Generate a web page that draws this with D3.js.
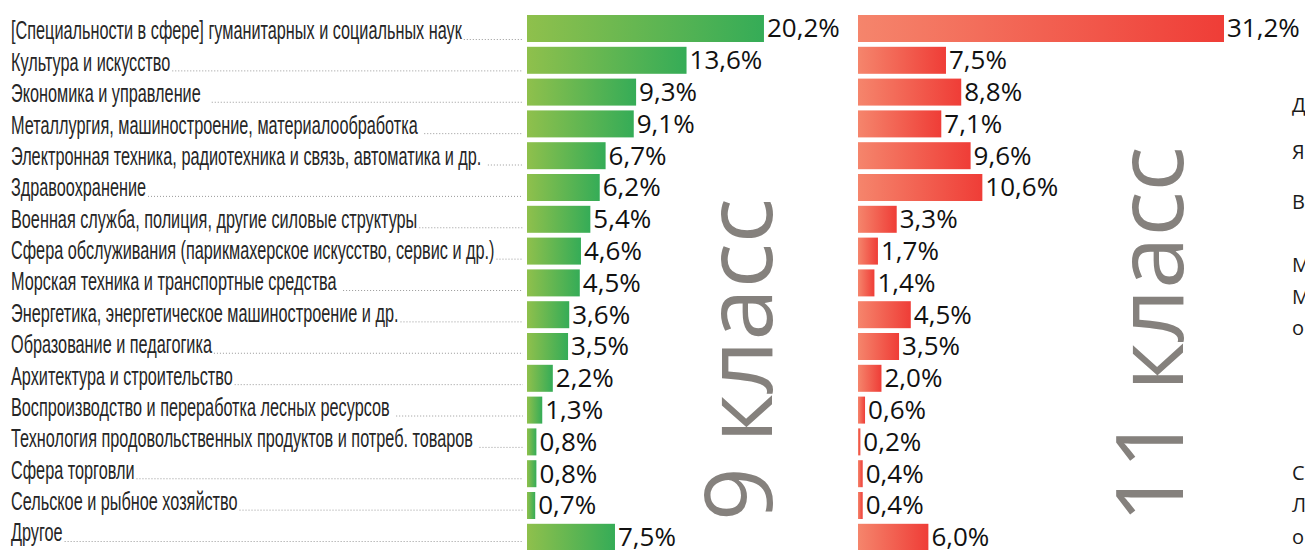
<!DOCTYPE html>
<html><head><meta charset="utf-8">
<script src="https://cdn.jsdelivr.net/npm/d3@7"></script>
<style>
html,body{margin:0;padding:0;background:#fff;overflow:hidden;}
svg{display:block;}
</style></head>
<body>
<svg id="chart" width="1305" height="550"></svg>
<script>
const categories = [
  "[Специальности в сфере] гуманитарных и социальных наук",
  "Культура и искусство",
  "Экономика и управление  ",
  "Металлургия, машиностроение, материалообработка ",
  "Электронная техника, радиотехника и связь, автоматика и др. ",
  "Здравоохранение",
  "Военная служба, полиция, другие силовые структуры",
  "Сфера обслуживания (парикмахерское искусство, сервис и др.)",
  "Морская техника и транспортные средства ",
  "Энергетика, энергетическое машиностроение и др.",
  "Образование и педагогика",
  "Архитектура и строительство",
  "Воспроизводство и переработка лесных ресурсов ",
  "Технология продовольственных продуктов и потреб. товаров ",
  "Сфера торговли",
  "Сельское и рыбное хозяйство",
  "Другое"
];
const grade9 = [20.2, 13.6, 9.3, 9.1, 6.7, 6.2, 5.4, 4.6, 4.5, 3.6, 3.5, 2.2, 1.3, 0.8, 0.8, 0.7, 7.5];
const grade11 = [31.2, 7.5, 8.8, 7.1, 9.6, 10.6, 3.3, 1.7, 1.4, 4.5, 3.5, 2.0, 0.6, 0.2, 0.4, 0.4, 6.0];
const seriesTitles = ["9 класс", "11 класс"];
const sideLetters = ["Д", "Я", "В", "М", "М", "о", "С", "Л", "о"];
const sideBaselines = [112, 159, 209, 272, 304, 335, 480, 512, 544];

const svg = d3.select("#chart");
const defs = svg.append("defs");
function grad(id, c0, c1){
  const g = defs.append("linearGradient").attr("id", id)
    .attr("x1","0%").attr("x2","100%").attr("y1","0%").attr("y2","0%");
  g.append("stop").attr("offset","0%").attr("stop-color", c0);
  g.append("stop").attr("offset","100%").attr("stop-color", c1);
}
grad("gGreen", "#8fc04c", "#35ac57");
grad("gRed", "#f5856c", "#ef3d37");

const y = d3.scaleBand().domain(d3.range(categories.length))
  .range([15, 15 + 31.8 * (categories.length - 0.151)])
  .paddingInner(0.151).paddingOuter(0);
const yLab = d3.scalePoint().domain(d3.range(categories.length)).range([39.5, 541.5]);
const x = d3.scaleLinear().domain([0, 31.2]).range([0, 366]);
const fmt = v => d3.format(".1f")(v).replace(".", ",") + "%";

// labels
const labelG = svg.append("g");
const labels = labelG.selectAll("text.lab").data(categories).join("text")
  .attr("class","lab")
  .attr("x", 0)
  .attr("y", (d,i) => yLab(i))
  .attr("font-family", "'Liberation Sans Narrow', 'Arial Narrow', sans-serif")
  .attr("font-size", 26)
  .attr("fill", "#262626")
  .style("white-space", "pre")
  .text(d => d);
const w0 = labels.node().getComputedTextLength();
const sx = 451 / w0;
labelG.attr("transform", `translate(11,0) scale(${sx},1)`);
// leaders
labels.each(function(d,i){
  const w = this.getComputedTextLength() * sx + 11;
  svg.append("line")
    .attr("x1", w + 2).attr("x2", 523)
    .attr("y1", yLab(i)).attr("y2", yLab(i))
    .attr("stroke", "#999").attr("stroke-width", 1)
    .attr("stroke-dasharray", "1,2");
});

function series(data, x0, fill){
  const g = svg.append("g").attr("transform", `translate(${x0},0)`);
  g.selectAll("rect").data(data).join("rect")
    .attr("x", 0).attr("y", (d,i) => y(i))
    .attr("width", d => x(d)).attr("height", y.bandwidth())
    .attr("fill", `url(#${fill})`);
  g.selectAll("text").data(data).join("text")
    .attr("x", d => x(d) + 3)
    .attr("y", (d,i) => y(i) + y.bandwidth()/2 + 9)
    .attr("font-family", "'Open Sans', sans-serif")
    .attr("font-size", 26)
    .attr("fill", "#111")
    .text(d => fmt(d));
}
series(grade9, 527, "gGreen");
series(grade11, 858, "gRed");

const titlePos = [[772, 521], [1183, 523]];
seriesTitles.forEach((t,i) => {
  svg.append("text")
    .attr("transform", `translate(${titlePos[i][0]},${titlePos[i][1]}) rotate(-90)`)
    .attr("font-family", "'Open Sans', sans-serif")
    .attr("font-size", 94)
    .attr("fill", "#85817d")
    .text(t);
});

svg.selectAll("text.side").data(sideLetters).join("text")
  .attr("class","side")
  .attr("x", 1292)
  .attr("y", (d,i) => sideBaselines[i])
  .attr("font-family", "'Open Sans', sans-serif")
  .attr("font-size", 20)
  .attr("fill", "#1a1a1a")
  .text(d => d);
</script>
</body></html>
